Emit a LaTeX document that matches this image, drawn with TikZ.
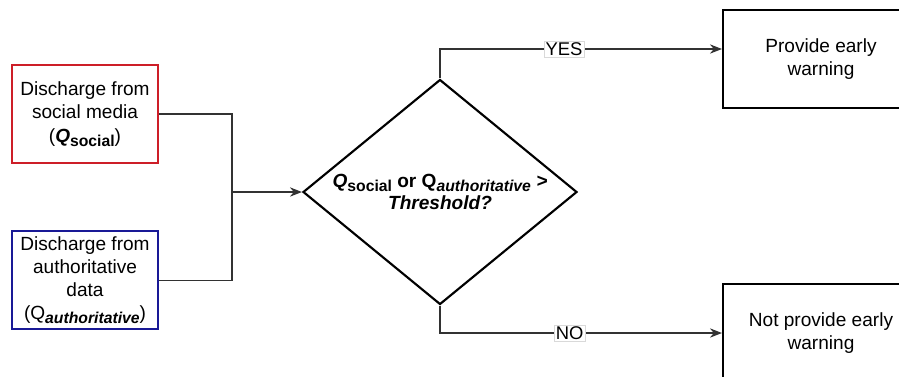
\documentclass[tikz,border=0pt]{standalone}
\usepackage{fontspec}
\setmainfont{Liberation Sans}
\usetikzlibrary{shapes.geometric, arrows.meta, positioning, calc}
\definecolor{socialred}{RGB}{205, 30, 40}
\definecolor{authblue}{RGB}{25, 25, 150}
\definecolor{linegray}{RGB}{50, 50, 50}
\newcommand{\lowsub}[1]{\raisebox{-0.4ex}{\fontsize{11.8}{12}\selectfont #1}}

\begin{document}
\begin{tikzpicture}[
  x=0.75pt, y=-0.75pt,
  font=\fontsize{14.3}{17.4}\selectfont,
  box/.style={rectangle, draw=black, line width=1.6pt,
              minimum width=147pt, minimum height=73.5pt,
              align=center, inner sep=3pt},
  inbox/.style={box, minimum width=110pt},
  decision/.style={diamond, draw=black, line width=1.6pt,
              minimum width=205.5pt, minimum height=168.75pt,
              aspect=1.22, inner sep=0pt, align=center,
              font=\fontsize{14.3}{16.5}\selectfont\bfseries},
  answer/.style={fill=white, draw=black!15, line width=0.4pt,
              inner sep=1pt, font=\fontsize{13.8}{15}\selectfont},
  line/.style={draw=linegray, line width=0.8pt},
  arrow/.style={line, -{Stealth[length=9pt, width=7pt]}},
]
  \clip (0,0) rectangle (899,376);

  % Inputs
  \node[inbox, draw=socialred, fill=white] (social) at (85,114)
    {Discharge from\\social media\\(\textbf{\textit{Q}}\lowsub{\textbf{social}})};
  \node[inbox, draw=authblue, below=49.5pt of social] (auth)
    {Discharge from\\authoritative\\data\\(Q\lowsub{\textbf{\textit{authoritative}}})};

  % Decision
  \node[decision] (dec) at (440,192)
    {\textit{Q}\lowsub{social} or Q\lowsub{\textit{authoritative}} \textit{>}\\
     \textit{Threshold?}};

  % Outcomes
  \node[box] (yes) at (821,59) {Provide early\\warning};
  \node[box] (no) at (821,333) {Not provide early\\warning};

  % Inputs -> decision
  \coordinate (join) at (232,192);
  \draw[line] (social.east) -| (join);
  \draw[line] (auth.east) -| (join);
  \draw[arrow] (join) -- (dec.west);

  % Decision -> outcomes
  \coordinate (yesin) at ($(yes.west)+(0,-10)$);
  \draw[arrow] (dec.north) |- node[answer, pos=0.72]{YES} (yesin);
  \draw[arrow] (dec.south) |- node[answer, pos=0.73]{NO} (no.west);
\end{tikzpicture}
\end{document}
